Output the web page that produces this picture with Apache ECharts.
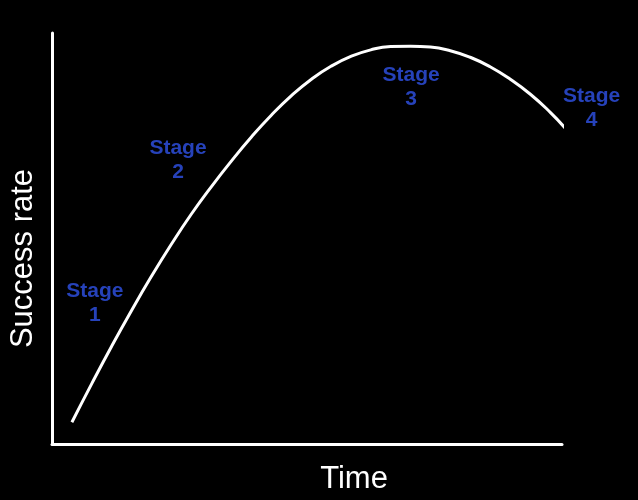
<!DOCTYPE html>
<html>
<head>
<meta charset="utf-8">
<script src="https://cdn.jsdelivr.net/npm/echarts@6/dist/echarts.min.js"></script>
<style>
html,body{margin:0;padding:0;background:#000;}
#chart{width:638px;height:500px;}
</style>
</head>
<body>
<div id="chart"></div>
<script>
// Curve (time vs success rate) on a 0-100 scale
var timeValues    = [3.9, 7.8, 11.7, 15.6, 19.5, 23.4, 27.3, 31.3, 35.2, 39.1, 43.0, 46.9, 50.8, 54.7, 58.6, 62.5, 66.4, 70.3, 74.2, 78.1, 82.0, 85.9, 89.8, 93.8, 97.7, 100.6];
var successValues = [5.3, 14.7, 23.8, 32.5, 40.8, 48.6, 55.9, 62.7, 68.9, 74.7, 80.0, 84.7, 88.7, 91.9, 94.3, 95.9, 96.7, 96.8, 96.6, 95.7, 94.1, 91.8, 88.8, 85.1, 80.7, 76.9];

// Stage annotations
var stageNames = ['Stage\n1', 'Stage\n2', 'Stage\n3', 'Stage\n4'];
var stageX     = [8.4, 24.7, 70.4, 105.8];
var stageY     = [34.3, 69.0, 86.7, 81.8];

var xTitle = 'Time';
var yTitle = 'Success rate';

var curve = timeValues.map(function (t, i) { return [t, successValues[i]]; });
var stages = stageNames.map(function (n, i) { return { value: [stageX[i], stageY[i]], name: n }; });

var chart = echarts.init(document.getElementById('chart'));
chart.setOption({
  backgroundColor: '#000',
  animation: false,
  grid: { left: 50, top: 33, width: 512, bottom: 55 },
  xAxis: {
    type: 'value', min: 0, max: 100,
    name: xTitle, nameLocation: 'middle', nameGap: 20,
    nameTextStyle: { color: '#fff', fontSize: 31, fontFamily: 'Liberation Sans, Arial, sans-serif', padding: [0, 0, 0, 94] },
    axisLine: { show: true, lineStyle: { color: '#fff', width: 3 } },
    axisTick: { show: false }, axisLabel: { show: false }, splitLine: { show: false }
  },
  yAxis: {
    type: 'value', min: 0, max: 100,
    name: yTitle, nameLocation: 'middle', nameGap: 13,
    nameTextStyle: { color: '#fff', fontSize: 31, fontFamily: 'Liberation Sans, Arial, sans-serif', padding: [0, 40, 0, 0] },
    axisLine: { show: true, lineStyle: { color: '#fff', width: 3 } },
    axisTick: { show: false }, axisLabel: { show: false }, splitLine: { show: false }
  },
  series: [
    {
      type: 'line', data: curve, smooth: 0.5, showSymbol: false, clip: false,
      lineStyle: { color: '#fff', width: 3 }
    },
    {
      type: 'scatter', data: stages, symbolSize: 1, clip: false,
      itemStyle: { color: 'rgba(0,0,0,0)' },
      label: {
        show: true, position: 'inside',
        formatter: function (p) { return p.name; },
        color: '#2f52e8', fontSize: 21, fontWeight: 'bold', lineHeight: 24,
        fontFamily: 'Liberation Sans, Arial, sans-serif', align: 'center', verticalAlign: 'middle'
      }
    }
  ]
});
</script>
</body>
</html>
